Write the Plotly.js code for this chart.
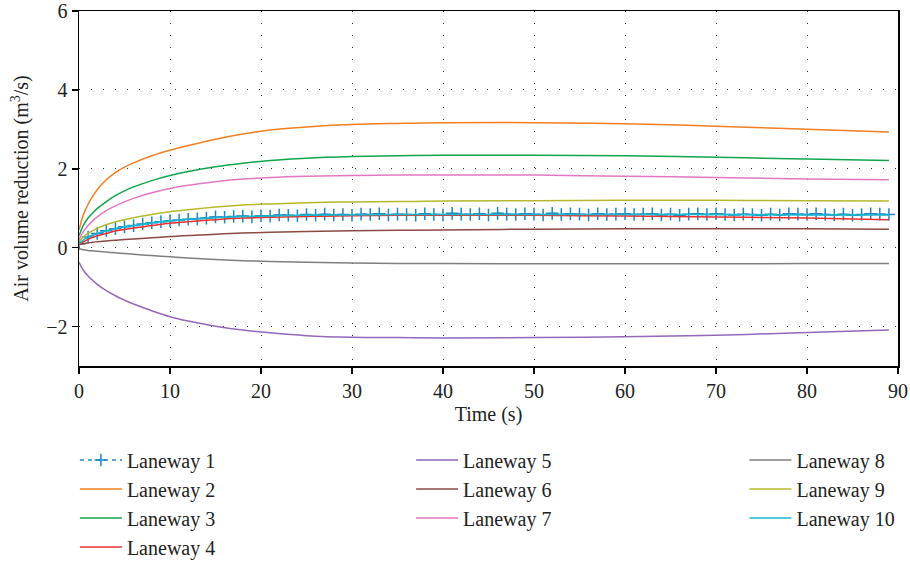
<!DOCTYPE html>
<html>
<head>
<meta charset="utf-8">
<script src="https://cdn.plot.ly/plotly-3.0.1.min.js"></script>
<style>html,body{margin:0;padding:0;background:#fff;}#chart{width:910px;height:561px;}</style>
</head>
<body>
<div id="chart"></div>
<script>
// Shared time axis for smooth series (s)
const timeSmooth = [0, 0.5, 1, 1.5, 2, 3, 4, 5, 6, 8, 10, 12, 15, 18, 21, 25, 30, 35, 40, 50, 60, 70, 80, 89];
// Laneway 1 sampled every second (0..89 s)
const time1 = [];
for (let t = 0; t <= 89; t++) time1.push(t);
const laneway1 = [0.10,0.27,0.36,0.43,0.48,0.53,0.56,0.60,0.63,0.66,
  0.68,0.70,0.72,0.73,0.75,0.78,0.77,0.79,0.80,0.78,
  0.81,0.80,0.83,0.82,0.81,0.84,0.82,0.85,0.83,0.84,
  0.82,0.85,0.84,0.86,0.83,0.85,0.84,0.82,0.86,0.84,
  0.83,0.87,0.85,0.84,0.86,0.83,0.87,0.85,0.84,0.86,
  0.85,0.83,0.87,0.84,0.86,0.85,0.83,0.86,0.84,0.85,
  0.86,0.84,0.85,0.86,0.83,0.85,0.82,0.85,0.86,0.84,
  0.86,0.84,0.83,0.85,0.84,0.82,0.85,0.83,0.86,0.85,
  0.84,0.86,0.84,0.83,0.85,0.82,0.84,0.86,0.85,0.84];
const laneway2 = [0.45,0.85,1.10,1.30,1.47,1.72,1.90,2.04,2.15,2.33,2.47,2.59,2.75,2.88,2.98,3.06,3.12,3.15,3.17,3.17,3.14,3.08,3.00,2.93];
const laneway3 = [0.30,0.58,0.75,0.88,0.99,1.17,1.32,1.44,1.54,1.70,1.83,1.93,2.05,2.14,2.21,2.27,2.31,2.33,2.34,2.34,2.33,2.29,2.25,2.21];
const laneway4 = [0.08,0.15,0.21,0.26,0.30,0.36,0.42,0.46,0.50,0.56,0.62,0.66,0.71,0.75,0.77,0.79,0.81,0.82,0.82,0.82,0.80,0.78,0.75,0.71];
const laneway5 = [-0.37,-0.58,-0.72,-0.83,-0.93,-1.09,-1.22,-1.33,-1.43,-1.60,-1.75,-1.86,-1.99,-2.09,-2.16,-2.23,-2.27,-2.28,-2.29,-2.28,-2.26,-2.22,-2.15,-2.09];
const laneway6 = [0.08,0.10,0.12,0.14,0.15,0.17,0.19,0.21,0.22,0.25,0.28,0.31,0.34,0.37,0.39,0.41,0.43,0.44,0.45,0.47,0.48,0.48,0.48,0.47];
const laneway7 = [0.20,0.42,0.56,0.68,0.78,0.94,1.06,1.16,1.25,1.39,1.50,1.58,1.67,1.74,1.78,1.81,1.83,1.84,1.84,1.84,1.81,1.78,1.74,1.72];
const laneway8 = [-0.03,-0.05,-0.07,-0.08,-0.09,-0.11,-0.13,-0.15,-0.17,-0.20,-0.23,-0.26,-0.30,-0.33,-0.35,-0.37,-0.39,-0.40,-0.40,-0.41,-0.41,-0.41,-0.40,-0.40];
const laneway9 = [0.15,0.28,0.36,0.43,0.49,0.58,0.65,0.71,0.76,0.84,0.91,0.96,1.03,1.08,1.11,1.14,1.16,1.17,1.18,1.19,1.20,1.20,1.19,1.18];
const laneway10 = [0.10,0.20,0.27,0.32,0.36,0.43,0.48,0.53,0.56,0.63,0.68,0.72,0.76,0.79,0.80,0.82,0.83,0.84,0.84,0.84,0.84,0.84,0.83,0.83];

const names = ["Laneway 1","Laneway 2","Laneway 3","Laneway 4","Laneway 5","Laneway 6","Laneway 7","Laneway 8","Laneway 9","Laneway 10"];
const colors = ["#1f86c8","#f57f20","#10a54a","#ec2f2f","#9467bd","#8c4a44","#e377c2","#7f7f7f","#b5b82a","#17b9cc"];
const series = [laneway1,laneway2,laneway3,laneway4,laneway5,laneway6,laneway7,laneway8,laneway9,laneway10];
const legendOf = ["legend","legend","legend","legend","legend2","legend2","legend2","legend3","legend3","legend3"];

const traces = series.map((ys, i) => {
  const tr = {
    x: i === 0 ? time1 : timeSmooth,
    y: ys,
    name: names[i],
    type: "scatter",
    mode: "lines",
    legend: legendOf[i],
    line: {color: colors[i], width: 1.5, shape: "spline", smoothing: 1}
  };
  if (i === 0) {
    tr.mode = "lines+markers";
    tr.line = {color: colors[i], width: 1.5, dash: "4px,4px"};
    tr.marker = {symbol: "cross-thin", size: 9, line: {color: colors[i], width: 1.5}};
  }
  return tr;
});

const fnt = {family: "Liberation Serif, Times New Roman, serif", size: 20, color: "#222"};
const legendBase = {orientation: "v", yanchor: "top", xanchor: "left", y: -0.21,
  font: fnt, bgcolor: "rgba(0,0,0,0)", tracegroupgap: 0, itemwidth: 42};

const layout = {
  width: 910, height: 561,
  margin: {l: 79, r: 12, t: 11, b: 195, autoexpand: false},
  paper_bgcolor: "#fff", plot_bgcolor: "#fff",
  font: fnt,
  showlegend: true,
  xaxis: {
    range: [0, 90], dtick: 10, tick0: 0,
    showline: true, linecolor: "#000", linewidth: 1.5, mirror: true,
    ticks: "outside", ticklen: 6, tickcolor: "#000", tickwidth: 1.5,
    showgrid: true, gridcolor: "#333", griddash: "1px,11px", gridwidth: 1,
    zeroline: false,
    tickfont: fnt,
    title: {text: "Time (s)", font: fnt, standoff: 6}
  },
  yaxis: {
    range: [-3, 6], dtick: 2, tick0: 0,
    showline: true, linecolor: "#000", linewidth: 1.5, mirror: true,
    ticks: "outside", ticklen: 6, tickcolor: "#000", tickwidth: 1.5,
    showgrid: true, gridcolor: "#333", griddash: "1px,11px", gridwidth: 1,
    zeroline: false,
    tickfont: fnt,
    tickformat: "d",
    title: {text: "Air volume reduction (m<sup>3</sup>/s)", font: fnt, standoff: 12}
  },
  legend: Object.assign({}, legendBase, {x: -0.005}),
  legend2: Object.assign({}, legendBase, {x: 0.4055}),
  legend3: Object.assign({}, legendBase, {x: 0.8125})
};

Plotly.newPlot("chart", traces, layout, {displayModeBar: false, staticPlot: true});
</script>
</body>
</html>
